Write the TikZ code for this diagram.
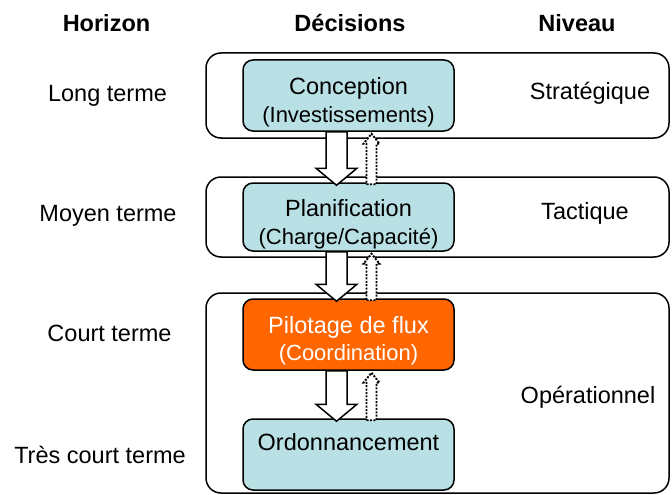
\documentclass[tikz,border=0pt]{standalone}
\usepackage{fontspec}
\setmainfont{Liberation Sans}
\usetikzlibrary{calc}
\definecolor{lightteal}{RGB}{185,224,228}
\definecolor{flowor}{RGB}{255,102,0}
\tikzset{
  mainfont/.style={font=\fontsize{23.5}{28}\selectfont},
  headfont/.style={font=\fontsize{23.5}{28}\selectfont\bfseries},
  levelbox/.style={draw=black, line width=1.5pt, rounded corners=15pt, fill=white,
    minimum width=463pt, inner sep=0pt},
  decbox/.style={draw=black, line width=1.5pt, rounded corners=10pt, fill=lightteal,
    minimum width=211pt, minimum height=71pt, inner sep=0pt, align=center,
    font=\fontsize{23.5}{28}\selectfont},
  hotbox/.style={decbox, fill=flowor, text=white},
  downarrow/.style={draw=black, line width=1.5pt, fill=white, line join=miter},
  uparrow/.style={draw=black, line width=1.9pt, fill=white, dash pattern=on 2pt off 1.4pt},
}
\newcommand{\subline}[1]{{\fontsize{22}{26}\selectfont #1}}
\newcommand{\blockdown}[3]{% from node, to node, x offset
  \path[downarrow] let \p1=($(#1.south)+(#3,0)$), \p2=($(#2.north)+(#3,0)$) in
    (\x1-10.5pt,\y1) -- (\x1+10.5pt,\y1) -- (\x1+10.5pt,\y2+14pt) -- (\x1+20.5pt,\y2+14pt)
    -- (\x1,\y2-3pt) -- (\x1-20.5pt,\y2+14pt) -- (\x1-10.5pt,\y2+14pt) -- cycle;}
\newcommand{\dottedup}[3]{% from lower node, to upper node, x offset
  \path[uparrow] let \p1=($(#1.north)+(#3,0)$), \p2=($(#2.south)+(#3,0)$) in
    (\x1-5pt,\y1-2pt) -- (\x1+5pt,\y1-2pt) -- (\x1+5pt,\y2-12pt) -- (\x1+8pt,\y2-12pt)
    -- (\x1,\y2-2pt) -- (\x1-8pt,\y2-12pt) -- (\x1-5pt,\y2-12pt) -- cycle;}
\begin{document}
\begin{tikzpicture}[x=1pt,y=-1pt]
\useasboundingbox (0,0) rectangle (672,495);
% headers
\node[headfont] (hh) at (106.5,23) {Horizon};
\node[headfont] (hd) at (350,23) {Décisions};
\node[headfont] (hn) at (577,23) {Niveau};
% horizons
\node[mainfont] (h1) at (107.5,96) {Long terme};
\node[mainfont] (h2) at (108,216) {Moyen terme};
\node[mainfont] (h3) at (109.5,333) {Court terme};
\node[mainfont] (h4) at (100,455) {Très court terme};
% level boxes
\node[levelbox, minimum height=85pt] (L1) at (437.5,95.5) {};
\node[levelbox, minimum height=80pt] (L2) at (437.5,217) {};
\node[levelbox, minimum height=200pt] (L3) at (437.5,393) {};
\node[mainfont] (n1) at (590,93) {Stratégique};
\node[mainfont] (n2) at (585,213) {Tactique};
\node[mainfont] (n3) at (588,397) {Opérationnel};
% decision boxes
\node[decbox] (d1) at (348.5,95.5) {\rule{0pt}{31pt}Conception\\[0pt]\subline{(Investissements)}};
\node[decbox, minimum height=68pt] (d2) at (348.5,217) {\rule{0pt}{31pt}Planification\\[0pt]\subline{(Charge/Capacité)}};
\node[hotbox] (d3) at (348.5,334.5) {\rule{0pt}{29pt}Pilotage de flux\\[-1pt]\subline{(Coordination)}};
\node[decbox] (d4) at (348.5,454.5) {Ordonnancement\\[-2pt]~};
% arrows
\blockdown{d1}{d2}{-12pt}
\blockdown{d2}{d3}{-12pt}
\blockdown{d3}{d4}{-12pt}
\dottedup{d2}{d1}{23pt}
\dottedup{d3}{d2}{23pt}
\dottedup{d4}{d3}{23pt}
\end{tikzpicture}
\end{document}
